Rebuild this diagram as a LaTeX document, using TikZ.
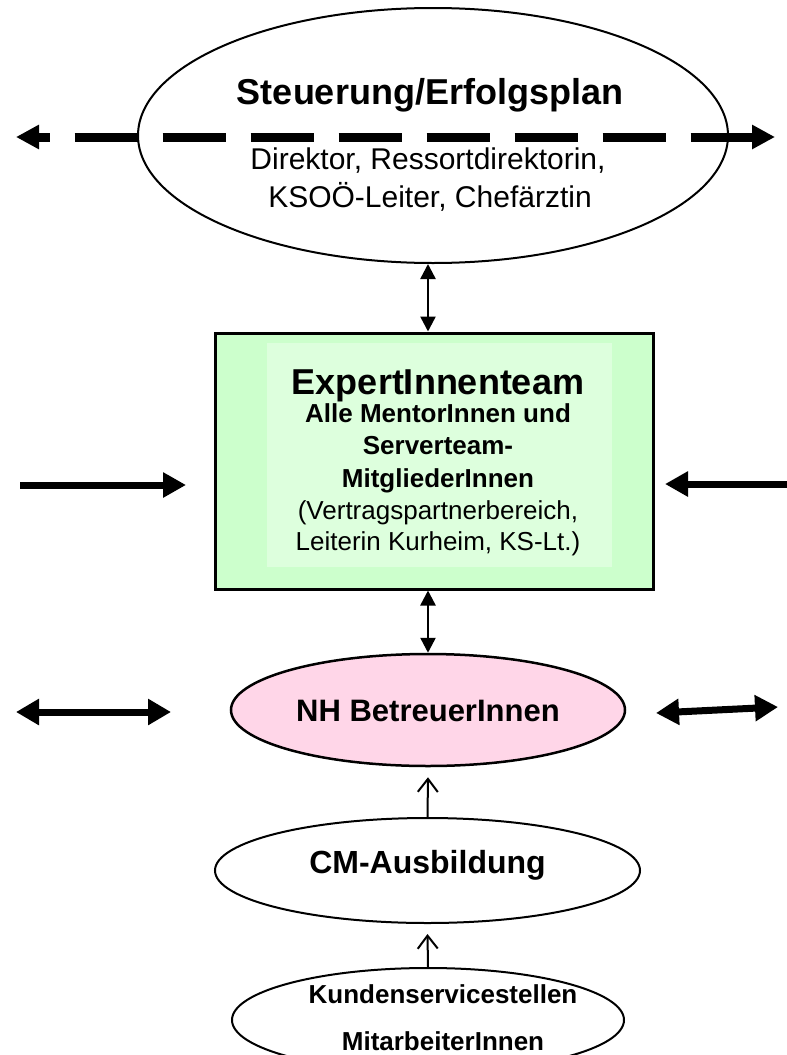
\documentclass[tikz,border=0pt]{standalone}
\usepackage{fontspec}
\setmainfont{Liberation Sans}
\usetikzlibrary{arrows.meta,shapes.geometric}
\definecolor{boxgreen}{RGB}{204,255,204}
\definecolor{innergreen}{RGB}{221,255,221}
\definecolor{nhpink}{RGB}{255,214,232}
\tikzset{
  ell/.style={ellipse, draw=black, line width=2pt, inner sep=0pt},
  txt/.style={inner sep=0pt, anchor=base},
  bigbold/.style={txt, font=\bfseries\fontsize{36}{40}\selectfont},
  midbold/.style={txt, font=\bfseries\fontsize{26}{30}\selectfont},
  midreg/.style={txt, font=\fontsize{26}{30}\selectfont},
  subreg/.style={txt, font=\fontsize{30}{34}\selectfont},
  nhbold/.style={txt, font=\bfseries\fontsize{31}{34}\selectfont},
  cmbold/.style={txt, font=\bfseries\fontsize{32}{36}\selectfont},
  kbold/.style={txt, font=\bfseries\fontsize{26}{30}\selectfont},
  dashline/.style={line width=9pt, dash pattern=on 63pt off 25pt, dash phase=51pt,
    {Triangle[length=23pt,width=23pt]}-{Triangle[length=23pt,width=23pt]}},
  fatarrow/.style={line width=7pt, -{Triangle[length=23pt,width=24pt]}},
  fatdouble/.style={line width=7pt, {Triangle[length=23pt,width=25pt]}-{Triangle[length=23pt,width=25pt]}},
  thindouble/.style={line width=2.5pt, {Triangle[length=15pt,width=15pt]}-{Triangle[length=15pt,width=15pt]}},
  openarrow/.style={line width=2pt, -{Straight Barb[length=13pt,width=20pt]}}
}
\begin{document}
\begin{tikzpicture}[x=1pt,y=-1pt]
\useasboundingbox (0,0) rectangle (787,1055);
\clip (0,0) rectangle (787,1055);
\fill[white] (0,0) rectangle (787,1055);

% top ellipse
\node[ell, fill=white, minimum width=590pt, minimum height=255pt] (steu) at (433,135.5) {};
\node[bigbold] (steutitle) at (430,104) {Steuerung/Erfolgsplan};
\node[subreg] (steusub1) at (428,169) {Direktor, Ressortdirektorin,};
\node[subreg] (steusub2) at (430,207) {KSOÖ-Leiter, Chefärztin};
\coordinate (dl) at (16,137);
\coordinate (dr) at (775,137);
\draw[dashline] (dl) -- (dr);

% expert box
\node[draw=black, line width=3pt, fill=boxgreen, minimum width=438pt, minimum height=256pt, inner sep=0pt] (box) at (434,461) {};
\node[fill=innergreen, minimum width=345pt, minimum height=224pt, inner sep=0pt] (boxin) at (439.5,455) {};
\node[bigbold] (e1) at (438,394) {ExpertInnenteam};
\node[midbold] (e2) at (438,422) {Alle MentorInnen und};
\node[midbold] (e3) at (438,454) {Serverteam-};
\node[midbold] (e4) at (438,487) {MitgliederInnen};
\node[midreg] (e5) at (438,519) {(Vertragspartnerbereich,};
\node[midreg] (e6) at (438,550) {Leiterin Kurheim, KS-Lt.)};

\draw[thindouble] ([xshift=-5pt]steu.south) -- ([xshift=-6pt]box.north);

% side arrows at box
\coordinate (la1) at (20,485);
\coordinate (la2) at (186,485);
\draw[fatarrow] (la1) -- (la2);
\coordinate (ra1) at (787,484);
\coordinate (ra2) at (665,484);
\draw[fatarrow] (ra1) -- (ra2);

% NH ellipse
\node[ell, line width=2.5pt, fill=nhpink, minimum width=394pt, minimum height=112pt] (nh) at (428,710) {};
\node[nhbold] (nhtext) at (428,721) {NH BetreuerInnen};
\draw[thindouble] ([xshift=-6pt]box.south) -- (nh.north);

\coordinate (nl1) at (16,712);
\coordinate (nl2) at (171,712);
\draw[fatdouble] (nl1) -- (nl2);
\coordinate (nr1) at (656,713);
\coordinate (nr2) at (778,707);
\draw[fatdouble] (nr1) -- (nr2);

% CM ellipse
\node[ell, fill=white, minimum width=425pt, minimum height=105pt] (cm) at (427.5,870.5) {};
\node[cmbold] (cmtext) at (427.5,873) {CM-Ausbildung};
\draw[openarrow] (cm.north) -- ([yshift=-10pt]nh.south);

% Kunden ellipse
\node[ell, fill=white, minimum width=392pt, minimum height=104pt] (kd) at (428,1020) {};
\node[kbold] (kd1) at (443,1003) {Kundenservicestellen};
\node[kbold] (kd2) at (443,1050) {MitarbeiterInnen};
\draw[openarrow] (kd.north) -- ([yshift=-10pt]cm.south);
\end{tikzpicture}
\end{document}
